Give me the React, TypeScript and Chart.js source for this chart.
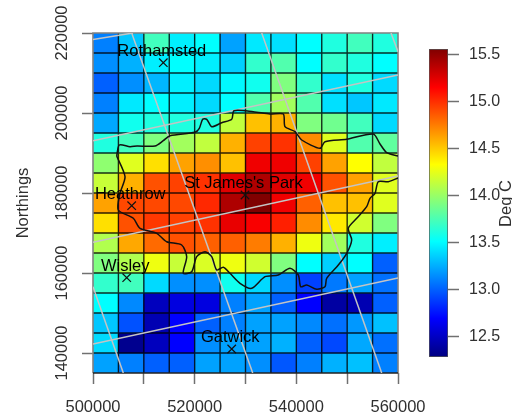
import React, { useEffect, useRef } from "react";
import { Chart, registerables } from "chart.js";

Chart.register(...registerables);

const FONT = "'Liberation Sans', Arial, sans-serif";
const TEXT = "#303030";

// Cell centres
const eastings = [502500, 507500, 512500, 517500, 522500, 527500, 532500, 537500, 542500, 547500, 552500, 557500];
const northings = [217500, 212500, 207500, 202500, 197500, 192500, 187500, 182500, 177500, 172500, 167500, 162500, 157500, 152500, 147500, 142500, 137500];

// Temperatures, deg C, one list per row of cells from north to south
const row01 = [13.1, 13.33, 13.72, 13.46, 13.51, 13.21, 13.44, 13.41, 13.51, 13.61, 13.72, 13.61];
const row02 = [13.15, 13.26, 13.46, 13.51, 13.46, 13.36, 13.67, 13.77, 13.51, 13.67, 13.61, 13.51];
const row03 = [13.0, 13.15, 13.28, 13.46, 13.39, 13.49, 13.56, 13.92, 13.67, 13.41, 13.61, 13.39];
const row04 = [13.1, 13.44, 13.51, 13.46, 13.39, 13.51, 13.77, 14.03, 13.77, 13.41, 13.33, 13.44];
const row05 = [13.23, 13.56, 13.61, 13.61, 13.61, 14.13, 14.53, 14.58, 13.92, 13.87, 13.72, 13.39];
const row06 = [13.61, 13.72, 13.92, 14.03, 14.13, 14.58, 14.94, 14.99, 14.7, 14.23, 13.77, 13.82];
const row07 = [13.97, 14.23, 14.43, 14.63, 14.69, 14.53, 15.2, 15.2, 14.94, 14.63, 14.33, 14.13];
const row08 = [14.15, 14.58, 14.89, 14.94, 14.99, 15.25, 15.41, 15.25, 15.2, 14.89, 14.63, 14.23];
const row09 = [14.63, 14.92, 14.92, 14.92, 15.02, 15.41, 15.56, 15.2, 14.84, 14.53, 14.53, 14.23];
const row10 = [14.43, 14.89, 14.97, 14.94, 14.99, 15.22, 15.17, 15.05, 14.7, 14.4, 14.18, 13.92];
const row11 = [14.08, 14.61, 14.81, 14.89, 14.84, 14.84, 14.75, 14.58, 14.28, 14.03, 13.61, 13.46];
const row12 = [13.92, 14.08, 14.28, 14.15, 14.21, 14.28, 14.18, 13.92, 13.51, 13.36, 13.51, 13.0];
const row13 = [13.67, 13.72, 13.39, 13.15, 13.15, 13.56, 13.39, 13.15, 12.9, 13.08, 13.21, 13.05];
const row14 = [13.51, 13.13, 12.48, 12.59, 12.59, 13.1, 13.21, 13.0, 12.69, 12.39, 12.44, 13.0];
const row15 = [13.33, 12.95, 12.44, 12.69, 13.0, 13.1, 13.21, 13.21, 13.13, 13.05, 13.18, 13.31];
const row16 = [13.39, 12.33, 12.48, 12.69, 13.15, 13.21, 13.21, 13.26, 13.0, 12.92, 13.23, 13.05];
const row17 = [13.21, 13.1, 13.0, 13.0, 13.21, 13.21, 13.15, 12.97, 13.1, 13.26, 13.31, 13.1];
const temperatureRows = [row01, row02, row03, row04, row05, row06, row07, row08, row09, row10, row11, row12, row13, row14, row15, row16, row17];

const cellEdgesX = [500000, 505000, 510000, 515000, 520000, 525000, 530000, 535000, 540000, 545000, 550000, 555000, 560000];
const cellEdgesY = [135000, 140000, 145000, 150000, 155000, 160000, 165000, 170000, 175000, 180000, 185000, 190000, 195000, 200000, 205000, 210000, 215000, 220000];
const xTicks = [500000, 510000, 520000, 530000, 540000, 550000, 560000];
const xTickLabels = [500000, 520000, 540000, 560000];
const yTicks = [140000, 160000, 180000, 200000, 220000];
const legendTicks = [12.5, 13.0, 13.5, 14.0, 14.5, 15.0, 15.5];
const legendRange: [number, number] = [12.28, 15.56];
const jetStops = ["#000080", "#0000ff", "#00ffff", "#ffff00", "#ff0000", "#800000"];
const jetPositions = [0, 0.125, 0.375, 0.625, 0.875, 1];

// Rotated national-grid reference lines, as [east, north] ends
const gridLineA = [[500000, 218375], [507870, 220000]];
const gridLineB = [[500000, 193075], [560000, 209500]];
const gridLineC = [[500000, 167675], [560000, 184250]];
const gridLineD = [[500000, 142250], [560000, 158750]];
const gridLineE = [[507610, 220000], [531420, 135000]];
const gridLineF = [[533190, 220000], [556790, 135000]];
const gridLineG = [[558620, 220000], [560000, 215325]];
const gridLineH = [[500000, 156575], [505960, 135000]];
const referenceLines = [gridLineA, gridLineB, gridLineC, gridLineD, gridLineE, gridLineF, gridLineG, gridLineH];

// Greater London outline
const boundaryNorth = [[504660, 189250], [505170, 192000], [507280, 191575], [508660, 191750], [512200, 191750], [513830, 193075], [515150, 194325], [520070, 195175], [520910, 196175], [521580, 198425], [522370, 198425], [523350, 196575], [525320, 197575], [527290, 198425], [527740, 200575], [531530, 200325], [534820, 199750], [537440, 199750], [537770, 196575], [539740, 195325], [541060, 193250], [544660, 191175], [545640, 192825], [549910, 193425], [555140, 194750], [556460, 192250], [557780, 190075], [560000, 189250]];
const boundarySouth = [[560000, 183750], [558090, 182825], [556120, 182825], [555480, 179925], [554490, 178675], [553840, 176575], [551880, 173675], [550220, 171175], [550890, 168250], [549910, 164925], [548260, 162000], [545970, 158675], [545640, 156575], [544010, 155925], [542040, 157000], [540860, 156575], [540390, 159500], [538750, 161175], [536450, 159500], [533840, 159075], [531220, 156175], [528920, 157425], [526950, 159925], [525630, 161425], [524330, 160750], [523350, 164075], [522030, 165325], [520400, 164075], [519420, 160325], [517760, 159925], [518430, 164075], [517450, 167000], [514500, 167825], [512530, 169925], [509250, 171175], [507930, 173675], [504980, 175750], [505310, 179925], [506300, 184075], [504660, 189250]];

const siteNames = ["Rothamsted", "Heathrow", "St James's Park", "Wisley", "Gatwick"];
const siteEast = [513830, 507610, 529900, 506630, 527290];
const siteNorth = [212575, 176825, 179500, 158825, 141000];

function hexToRgb(hex: string) {
  return [1, 3, 5].map((i) => parseInt(hex.slice(i, i + 2), 16));
}

function jetColor(v: number) {
  const t = Math.min(1, Math.max(0, (v - legendRange[0]) / (legendRange[1] - legendRange[0])));
  let i = 0;
  while (i < jetPositions.length - 2 && t > jetPositions[i + 1]) i++;
  const f = (t - jetPositions[i]) / (jetPositions[i + 1] - jetPositions[i]);
  const a = hexToRgb(jetStops[i]);
  const b = hexToRgb(jetStops[i + 1]);
  return `rgb(${a.map((c, k) => Math.round(c + (b[k] - c) * f)).join(",")})`;
}

const toPoints = (pairs: number[][]) => pairs.map(([x, y]) => ({ x, y }));

const mapLabels = {
  id: "mapLabels",
  afterDatasetsDraw(chart: any) {
    const { ctx, scales } = chart;
    ctx.save();
    ctx.font = `16.5px ${FONT}`;
    ctx.fillStyle = "#000";
    ctx.textAlign = "center";
    ctx.textBaseline = "middle";
    siteNames.forEach((name, i) => {
      ctx.fillText(name, scales.x.getPixelForValue(siteEast[i]) - 1.5, scales.y.getPixelForValue(siteNorth[i]) - 11.5);
    });
    ctx.restore();
  },
};

const legendTitle = {
  id: "legendTitle",
  afterDraw(chart: any) {
    const { ctx } = chart;
    ctx.save();
    ctx.translate(511, 203.5);
    ctx.rotate(-Math.PI / 2);
    ctx.font = `16.5px ${FONT}`;
    ctx.fillStyle = TEXT;
    ctx.textAlign = "center";
    ctx.textBaseline = "alphabetic";
    ctx.fillText("Deg C", 0, 0);
    ctx.restore();
  },
};

export default function App() {
  const mapRef = useRef<HTMLCanvasElement>(null);
  const barRef = useRef<HTMLCanvasElement>(null);

  useEffect(() => {
    const cellSets = temperatureRows.map((row, r) => ({
      type: "bar" as const,
      order: 10,
      data: row.map((_, c) => ({ x: eastings[c], y: [northings[r] - 2500, northings[r] + 2500] })),
      backgroundColor: row.map(jetColor),
      borderWidth: 0,
      barPercentage: 1,
      categoryPercentage: 1,
      grouped: false,
    }));

    const innerGrid: any[] = [];
    cellEdgesX.slice(1, -1).forEach((x) => innerGrid.push({ x, y: cellEdgesY[0] }, { x, y: cellEdgesY[17] }, { x: NaN, y: NaN }));
    cellEdgesY.slice(1, -1).forEach((y) => innerGrid.push({ x: cellEdgesX[0], y }, { x: cellEdgesX[12], y }, { x: NaN, y: NaN }));

    const xLo = cellEdgesX[0], xHi = cellEdgesX[12], yLo = cellEdgesY[0], yHi = cellEdgesY[17];

    const lineBase = { type: "line" as const, pointRadius: 0, tension: 0, fill: false, spanGaps: false };

    const map = new Chart(mapRef.current!, {
      type: "bar",
      data: {
        datasets: [
          ...cellSets,
          { ...lineBase, order: 9, data: innerGrid, borderColor: "rgba(0,0,0,0.82)", borderWidth: 1.4 },
          { ...lineBase, order: 8, clip: 3, data: [{ x: xLo, y: yLo }, { x: xHi, y: yLo }], borderColor: "#222", borderWidth: 1.4 },
          { ...lineBase, order: 8, clip: 3, data: [{ x: xLo, y: yLo }, { x: xLo, y: yHi }, { x: xHi, y: yHi }, { x: xHi, y: yLo }], borderColor: "#808080", borderWidth: 1.6 },
          ...referenceLines.map((l) => ({ ...lineBase, order: 6, data: toPoints(l), borderColor: "#c4c4c4", borderWidth: 1.5 })),
          { ...lineBase, order: 5, tension: 0.25, data: toPoints(boundaryNorth), borderColor: "#111", borderWidth: 1.5 },
          { ...lineBase, order: 5, tension: 0.25, data: toPoints(boundarySouth), borderColor: "#111", borderWidth: 1.5 },
          {
            ...lineBase,
            order: 4,
            showLine: false,
            data: siteEast.map((x, i) => ({ x, y: siteNorth[i] })),
            pointStyle: "crossRot",
            pointRadius: 6,
            pointBorderWidth: 1.2,
            pointBorderColor: "#111",
          },
        ],
      } as any,
      options: {
        responsive: false,
        animation: false,
        events: [],
        layout: { padding: { left: 0, top: 33, right: 114, bottom: 0 } },
        plugins: { legend: { display: false }, tooltip: { enabled: false } },
        scales: {
          x: {
            type: "linear",
            min: 500000,
            max: 560000,
            offset: false,
            grid: { offset: false, drawOnChartArea: false, tickLength: 11, tickColor: "#707070", tickWidth: 1.5 },
            border: { display: false },
            afterBuildTicks: (s: any) => { s.ticks = xTicks.map((value) => ({ value })); },
            afterFit: (s: any) => { s.height = 40; },
            ticks: {
              autoSkip: false,
              maxRotation: 0,
              padding: 14,
              color: TEXT,
              font: { family: FONT, size: 16.5 },
              callback: (v: any) => (xTickLabels.includes(Number(v)) ? String(v) : ""),
            },
          },
          y: {
            type: "linear",
            min: 135000,
            max: 220000,
            grid: { drawOnChartArea: false, tickLength: 11, tickColor: "#707070", tickWidth: 1.5 },
            border: { display: false },
            afterBuildTicks: (s: any) => { s.ticks = yTicks.map((value) => ({ value })); },
            afterFit: (s: any) => { s.width = 93; },
            title: {
              display: true,
              text: "Northings",
              color: TEXT,
              font: { family: FONT, size: 16.5 },
              padding: { top: 14, bottom: 0 },
            },
            ticks: {
              autoSkip: false,
              minRotation: 90,
              maxRotation: 90,
              crossAlign: "center",
              padding: -8,
              color: TEXT,
              font: { family: FONT, size: 16.5 },
              callback: (v: any) => String(v),
            },
          },
        },
      } as any,
      plugins: [mapLabels],
    });

    const bar = new Chart(barRef.current!, {
      type: "bar",
      data: {
        labels: ["Deg C"],
        datasets: [
          {
            data: [legendRange],
            backgroundColor: (c: any) => {
              const area = c.chart.chartArea;
              if (!area) return "#000";
              const g = c.chart.ctx.createLinearGradient(0, area.bottom, 0, area.top);
              jetStops.forEach((s, i) => g.addColorStop(jetPositions[i], s));
              return g;
            },
            borderColor: "#555",
            borderWidth: 1,
            borderSkipped: false,
            barPercentage: 1,
            categoryPercentage: 1,
          },
        ],
      } as any,
      options: {
        responsive: false,
        animation: false,
        events: [],
        layout: { padding: { left: 429, top: 49, right: 0, bottom: 56 } },
        plugins: { legend: { display: false }, tooltip: { enabled: false } },
        scales: {
          x: { display: false },
          y: {
            position: "right",
            min: legendRange[0],
            max: legendRange[1],
            grid: { drawOnChartArea: false, tickLength: 11, tickColor: "#707070", tickWidth: 1.5 },
            border: { display: false },
            afterBuildTicks: (s: any) => { s.ticks = legendTicks.map((value) => ({ value })); },
            afterFit: (s: any) => { s.width = 64; },
            ticks: {
              autoSkip: false,
              padding: 10,
              color: TEXT,
              font: { family: FONT, size: 16 },
              callback: (v: any) => Number(v).toFixed(1),
            },
          },
        },
      } as any,
      plugins: [legendTitle],
    });

    return () => {
      map.destroy();
      bar.destroy();
    };
  }, []);

  return (
    <div style={{ position: "fixed", left: 0, top: 0, width: 512, height: 413, background: "#fff", overflow: "hidden" }}>
      <canvas ref={mapRef} width={512} height={413} style={{ position: "absolute", left: 0, top: 0 }} />
      <canvas ref={barRef} width={512} height={413} style={{ position: "absolute", left: 0, top: 0 }} />
    </div>
  );
}
